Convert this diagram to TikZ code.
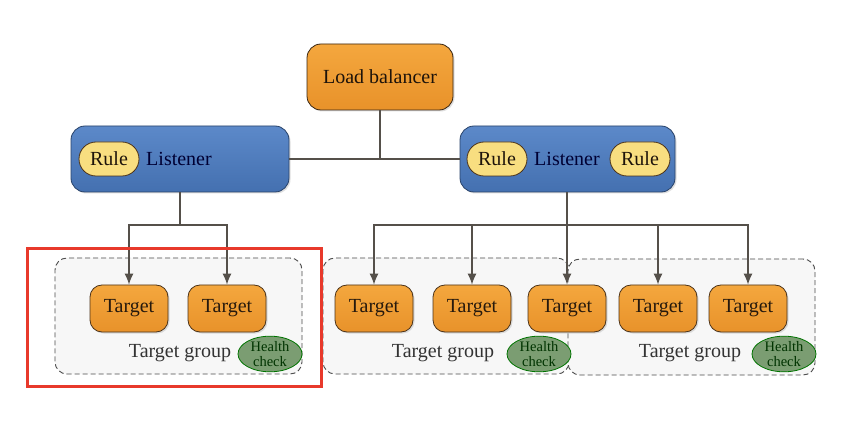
\documentclass[tikz,border=0pt]{standalone}
\usepackage{fontspec}
\setmainfont{Liberation Serif}
\usetikzlibrary{arrows.meta,shapes.geometric,shadows}
\definecolor{lbtop}{HTML}{F4A73E}
\definecolor{lbbot}{HTML}{E8922A}
\definecolor{lstop}{HTML}{5C89C9}
\definecolor{lsbot}{HTML}{4470B0}
\definecolor{rulecol}{HTML}{F8DE80}
\definecolor{hccol}{HTML}{7B9D72}
\definecolor{edgecol}{HTML}{55504A}
\definecolor{hlred}{HTML}{E8392B}
\definecolor{grpfill}{HTML}{F7F7F7}
\begin{document}
\begin{tikzpicture}[x=1pt,y=-1pt,
  shad/.style={drop shadow={opacity=0.25,shadow xshift=1.5pt,shadow yshift=-1.5pt}},
  lbbox/.style={draw=black!70!brown,line width=0.8pt,rounded corners=14pt,top color=lbtop,bottom color=lbbot,
    minimum width=146pt,minimum height=66pt,inner sep=0pt,font=\fontsize{20}{22}\selectfont,text=black!85!brown,shad},
  lsbox/.style={draw=lsbot!60!black,line width=0.8pt,rounded corners=14pt,top color=lstop,bottom color=lsbot,
    minimum height=66pt,inner sep=0pt,shad},
  lstext/.style={font=\fontsize{20}{22}\selectfont,text=black!80!blue,inner sep=0pt},
  rulebox/.style={draw=black!60!brown,line width=0.8pt,rounded corners=17pt,fill=rulecol,
    minimum width=60pt,minimum height=34pt,inner sep=0pt,font=\fontsize{20}{22}\selectfont,text=black!85!brown},
  tgt/.style={draw=black!60!brown,line width=0.8pt,rounded corners=12pt,top color=lbtop,bottom color=lbbot,
    minimum width=78pt,minimum height=47pt,inner sep=0pt,font=\fontsize{20}{22}\selectfont,text=black!80!brown,shad},
  grp/.style={draw=black!70,dashed,dash pattern=on 5pt off 3pt,line width=0.9pt,rounded corners=12pt,fill=grpfill},
  grptext/.style={font=\fontsize{20}{22}\selectfont,text=black!80,inner sep=0pt},
  hc/.style={ellipse,draw=black!55!green,line width=0.8pt,fill=hccol,minimum width=64pt,minimum height=32pt,
    inner sep=0pt,font=\fontsize{14.5}{15}\selectfont,text=black!80!green,align=center},
  conn/.style={draw=edgecol,line width=1.2pt},
  arr/.style={conn,-{Latex[length=11pt,width=9pt]}}
]
\useasboundingbox (0,0) rectangle (844,422);
\fill[white] (0,0) rectangle (844,422);

% target groups
\node[grp,minimum width=247pt,minimum height=116pt] (g1) at (178.5,316) {};
\node[grp,minimum width=246pt,minimum height=116pt] (g2) at (446,316) {};
\node[grp,minimum width=247pt,minimum height=116pt] (g3) at (691.5,317) {};

\node[grptext] (g1t) at (180,353) {Target group};
\node[grptext] (g2t) at (443,353) {Target group};
\node[grptext] (g3t) at (690,353) {Target group};

\node[hc] (h1) at (270,354) {Health\\check};
\node[hc] (h2) at (539,354) {Health\\check};
\node[hc] (h3) at (784,354) {Health\\check};

% targets
\node[tgt] (t1) at (129,308.5) {Target};
\node[tgt] (t2) at (227,308.5) {Target};
\node[tgt] (t3) at (374,308.5) {Target};
\node[tgt] (t4) at (472,308.5) {Target};
\node[tgt] (t5) at (567,308.5) {Target};
\node[tgt] (t6) at (658,308.5) {Target};
\node[tgt] (t7) at (748,308.5) {Target};

% load balancer & listeners
\node[lbbox] (lb) at (380,77) {Load balancer};
\node[lsbox,minimum width=218pt] (l1) at (180,159) {};
\node[lsbox,minimum width=215pt] (l2) at (567.5,159) {};
\node[rulebox] (r1) at (109,159) {Rule};
\node[lstext] (l1t) at (179,159) {Listener};
\node[rulebox] (r2) at (497,159) {Rule};
\node[lstext] (l2t) at (567,159) {Listener};
\node[rulebox] (r3) at (640,159) {Rule};

% connectors
\draw[conn] (lb.south) -- (lb.south |- l1.east);
\draw[conn] (l1.east) -- (l2.west);

\coordinate (j1) at (180,225);
\draw[conn] (l1.south) -- (j1);
\draw[arr] (j1) -| (t1.north);
\draw[arr] (j1) -| (t2.north);

\coordinate (j2) at (567,225);
\draw[conn] (l2.south -| j2) -- (j2);
\draw[arr] (j2) -| (t3.north);
\draw[arr] (j2) -| (t4.north);
\draw[arr] (j2) -- (t5.north);
\draw[arr] (j2) -| (t6.north);
\draw[arr] (j2) -| (t7.north);

% highlight
\node[draw=hlred,line width=3.2pt,minimum width=294pt,minimum height=138pt,inner sep=0pt] (hl) at (174.5,317.5) {};
\end{tikzpicture}
\end{document}
